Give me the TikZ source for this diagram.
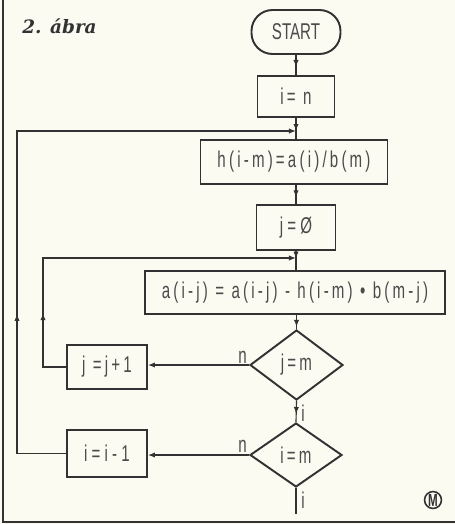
\documentclass[tikz,border=0pt]{standalone}
\usepackage{fontspec}
\newfontfamily\lt[FakeStretch=0.66]{Liberation Sans}
\newfontfamily\lts[FakeStretch=0.66,LetterSpace=14]{Liberation Sans}
\newfontfamily\ttl{DejaVu Serif}
\usetikzlibrary{shapes.geometric,arrows.meta,decorations.markings}
\definecolor{paper}{RGB}{251,251,242}
\definecolor{ink}{RGB}{50,50,50}
\definecolor{txt}{RGB}{75,75,75}
\tikzset{
  x=0.02cm, y=-0.02cm,
  tip/.tip={Latex[length=4pt,width=3pt]},
  box/.style={draw=ink, line width=1.1pt, inner sep=0pt, text=txt,
              font=\lt\fontsize{13}{15}\selectfont},
  dia/.style={diamond, draw=ink, line width=1.1pt, inner sep=0pt, aspect=1.3,
              text=txt, font=\lts\fontsize{13}{15}\selectfont},
  conn/.style={draw=ink, line width=0.65pt},
  midarrow/.style={postaction={decorate},
     decoration={markings, mark=at position #1 with {\arrow{tip}}}},
  lab/.style={text=txt, inner sep=0pt, font=\lt\fontsize{13}{15}\selectfont},
}
\begin{document}
\begin{tikzpicture}
\useasboundingbox[fill=paper] (0,0) rectangle (455,524);
% frame
\draw[draw=ink, line width=1pt] (3,0) -- (3,522) -- (455,522);
% title
\node[anchor=west, inner sep=0pt, text=ink, font=\ttl\bfseries\itshape\fontsize{10.5}{12}\selectfont] (title) at (22,26) {2. ábra};

% nodes
\node[box, rounded corners=0.42cm, minimum width=1.78cm, minimum height=0.88cm] (start) at (296,32) {START};
\node[box, minimum width=1.54cm, minimum height=0.82cm] (in) at (296,96.5) {\lts i= n};
\node[box, minimum width=3.74cm, minimum height=0.88cm] (h) at (294,162) {\lts h(i-m)=a(i)/b(m)};
\node[box, minimum width=1.58cm, minimum height=0.9cm] (j0) at (296,227.5) {j = Ø};
\node[box, minimum width=6.0cm, minimum height=0.86cm] (a) at (295,292.5) {\lts a(i-j) = a(i-j) - h(i-m) • b(m-j)};
\node[dia, minimum width=1.86cm, minimum height=1.4cm] (jm) at (296.5,365) {j=m};
\node[dia, minimum width=1.84cm, minimum height=1.28cm] (im) at (296,455) {i=m};
\node[box, minimum width=1.6cm, minimum height=0.88cm] (jj) at (107,367) {\lts j =j+1};
\node[box, minimum width=1.6cm, minimum height=0.94cm] (ii) at (107,453.5) {i = i - 1};

\coordinate (J1) at (296,131);
\coordinate (J2) at (296,258);
\coordinate (L1) at (17,131);
\coordinate (L2) at (43,258);
\coordinate (E) at (296,514);

% connectors
\draw[conn, midarrow=0.6] (start.south -| in.north) -- (in.north);
\draw[conn, midarrow=0.62] (in.south) -- (in.south |- h.north);
\draw[conn, midarrow=0.65] (h.south -| j0.north) -- (j0.north);
\draw[conn, midarrow=0.4] (j0.south) -- (j0.south |- a.north);
\draw[conn, midarrow=0.85] (a.south -| jm.north) -- (jm.north);
\draw[conn, midarrow=0.62] (jm.south) -- (im.north);
\draw[conn, -tip] (jm.west) -- (jm.west -| jj.east);
\draw[conn, -tip] (im.west) -- (im.west -| ii.east);
\draw[conn, midarrow=0.2, -tip] (jj.west) -| (L2) -- (J2);
\draw[conn, midarrow=0.29, -tip] (ii.west) -| (L1) -- (J1);
\draw[conn] (im.south) -- (E);

% labels
\node[lab, anchor=south east] (n1) at (247,364) {n};
\node[lab, anchor=south east] (n2) at (247,453) {n};
\node[lab, anchor=west] (y1) at (301,413) {i};
\node[lab, anchor=west] (y2) at (301,500) {i};

% logo
\node[circle, draw=ink, line width=0.9pt, inner sep=0.3pt, text=ink,
      font=\lt\bfseries\fontsize{10}{10}\selectfont] (logo) at (433,500) {M};
\end{tikzpicture}
\end{document}
